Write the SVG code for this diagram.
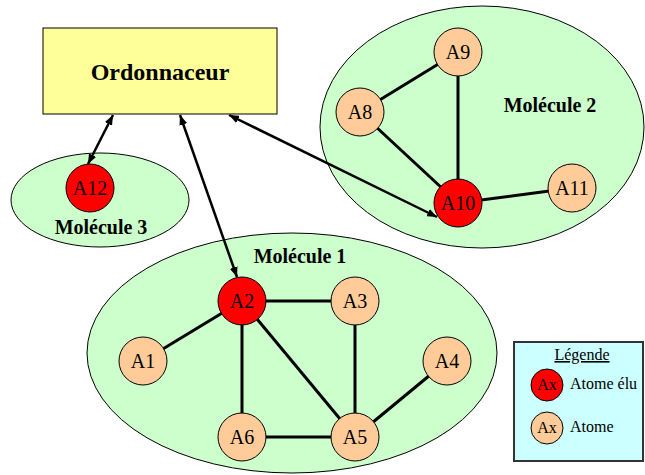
<svg xmlns="http://www.w3.org/2000/svg" width="645" height="475" viewBox="0 0 645 475">
<style>
text{font-family:"Liberation Serif","Times New Roman",Times,"Tinos","DejaVu Serif",serif}
.mol{fill:#ccffcc;stroke:#000;stroke-width:1}
.molt{font-weight:bold;font-size:20px;text-anchor:middle}
.at{stroke:#000;stroke-width:1}
.el{fill:#ff0000}
.no{fill:#ffcc99}
.lbl{font-size:20px;text-anchor:middle}
.edge{stroke:#000;stroke-width:3;fill:none}
.arr{stroke:#000;stroke-width:2.5;fill:none;marker-start:url(#ah);marker-end:url(#ah)}
.leg{font-size:16px}
</style>
<defs>
<marker id="ah" viewBox="0 0 10 8" refX="10" refY="4" markerWidth="10" markerHeight="8" markerUnits="userSpaceOnUse" orient="auto-start-reverse">
<path d="M0,0 L10,4 L0,8 Z" fill="#000"/>
</marker>
</defs>
<rect width="645" height="475" fill="#fff"/>
<g id="molecule3"><ellipse class="mol" cx="100" cy="200" rx="89" ry="47"/><text class="molt" x="101" y="234">Molécule 3</text></g>
<g id="molecule2"><ellipse class="mol" cx="482" cy="127" rx="162" ry="121"/><text class="molt" x="550" y="112">Molécule 2</text></g>
<g id="molecule1"><ellipse class="mol" cx="292" cy="353" rx="205" ry="120"/><text class="molt" x="300" y="263">Molécule 1</text></g>
<g id="connectors">
<line class="edge" x1="143" y1="361" x2="242" y2="301"/>
<line class="edge" x1="242" y1="301" x2="355" y2="301"/>
<line class="edge" x1="242" y1="301" x2="242" y2="437"/>
<line class="edge" x1="242" y1="301" x2="355" y2="437"/>
<line class="edge" x1="355" y1="301" x2="355" y2="437"/>
<line class="edge" x1="242" y1="437" x2="355" y2="437"/>
<line class="edge" x1="355" y1="437" x2="447" y2="361"/>
<line class="edge" x1="360" y1="112" x2="458" y2="52"/>
<line class="edge" x1="360" y1="112" x2="458" y2="203"/>
<line class="edge" x1="458" y1="52" x2="458" y2="203"/>
<line class="edge" x1="458" y1="203" x2="572" y2="188"/>
<line class="arr" x1="113" y1="115" x2="88" y2="164"/>
<line class="arr" x1="180" y1="115" x2="237" y2="277"/>
<line class="arr" x1="229" y1="115" x2="437" y2="217"/>
</g>
<g id="A12"><circle class="at el" cx="90" cy="188" r="24"/><text class="lbl" x="90" y="195">A12</text></g>
<g id="A9"><circle class="at no" cx="458" cy="52" r="24"/><text class="lbl" x="458" y="59">A9</text></g>
<g id="A8"><circle class="at no" cx="360" cy="112" r="24"/><text class="lbl" x="360" y="119">A8</text></g>
<g id="A10"><circle class="at el" cx="458" cy="203" r="24"/><text class="lbl" x="458" y="210">A10</text></g>
<g id="A11"><circle class="at no" cx="572" cy="188" r="24"/><text class="lbl" x="572" y="195">A11</text></g>
<g id="A1"><circle class="at no" cx="143" cy="361" r="24"/><text class="lbl" x="143" y="368">A1</text></g>
<g id="A2"><circle class="at el" cx="242" cy="301" r="24"/><text class="lbl" x="242" y="308">A2</text></g>
<g id="A3"><circle class="at no" cx="355" cy="301" r="24"/><text class="lbl" x="355" y="308">A3</text></g>
<g id="A4"><circle class="at no" cx="447" cy="361" r="24"/><text class="lbl" x="447" y="368">A4</text></g>
<g id="A5"><circle class="at no" cx="355" cy="437" r="24"/><text class="lbl" x="355" y="444">A5</text></g>
<g id="A6"><circle class="at no" cx="242" cy="437" r="24"/><text class="lbl" x="242" y="444">A6</text></g>
<g id="ordonnaceur"><rect x="43" y="28" width="234" height="86" fill="#ffff99" stroke="#000" stroke-width="1"/><text x="160" y="80" font-weight="bold" font-size="24" text-anchor="middle">Ordonnaceur</text></g>
<g id="legende">
<rect x="514" y="342" width="129" height="119" fill="#ccffff" stroke="#333" stroke-width="2"/>
<text class="leg" x="582" y="360" text-anchor="middle" text-decoration="underline">Légende</text>
<circle class="at el" cx="547" cy="385" r="16"/><text class="leg" x="547" y="390" text-anchor="middle">Ax</text>
<text class="leg" x="570" y="389">Atome élu</text>
<circle class="at no" cx="547" cy="428" r="16"/><text class="leg" x="547" y="433" text-anchor="middle">Ax</text>
<text class="leg" x="570" y="432">Atome</text>
</g>
</svg>
